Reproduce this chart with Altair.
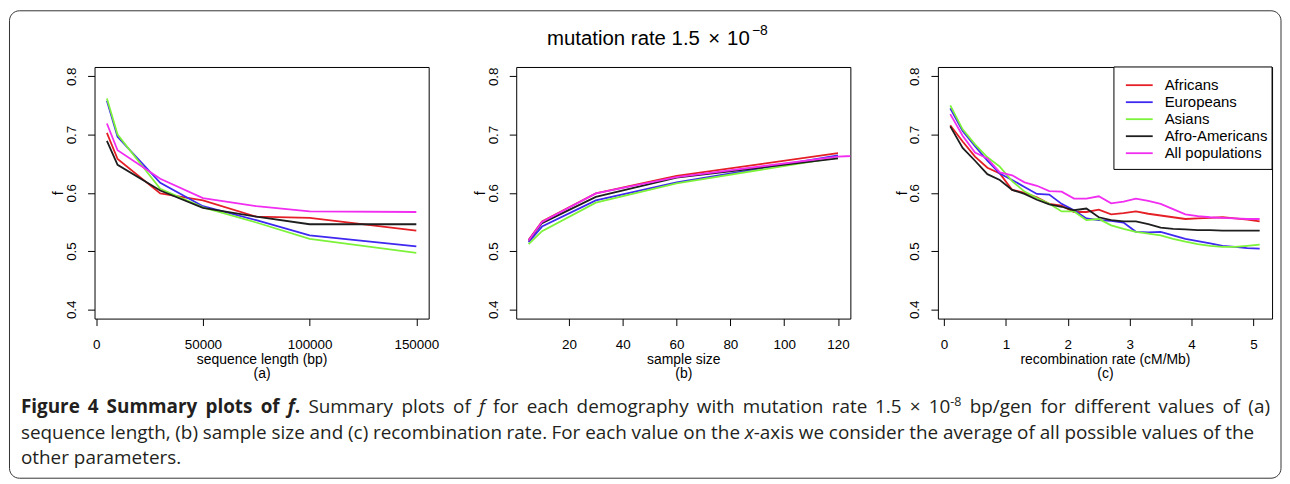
import glob
import altair as alt
import pandas as pd

# ---------------- data ----------------
series = ["Africans", "Europeans", "Asians", "Afro-Americans", "All populations"]
colors = ["#E41F26", "#3F28F0", "#7DF23A", "#1E1E1E", "#F02DF0"]

seq_length = [5000, 10000, 30000, 50000, 75000, 100000, 150000]
seq_africans = [0.703, 0.658, 0.599, 0.587, 0.559, 0.557, 0.535]
seq_europeans = [0.758, 0.696, 0.617, 0.577, 0.553, 0.527, 0.508]
seq_asians = [0.762, 0.700, 0.607, 0.575, 0.549, 0.521, 0.497]
seq_afro = [0.689, 0.648, 0.604, 0.574, 0.559, 0.546, 0.546]
seq_all = [0.719, 0.673, 0.624, 0.591, 0.577, 0.568, 0.567]

sample_size = [5, 10, 30, 60, 120]
sample_size_all = [5, 10, 30, 60, 120, 240]
smp_africans = [0.519, 0.551, 0.599, 0.629, 0.668]
smp_europeans = [0.515, 0.542, 0.587, 0.618, 0.664]
smp_asians = [0.512, 0.534, 0.583, 0.616, 0.661]
smp_afro = [0.518, 0.548, 0.593, 0.626, 0.659]
smp_all = [0.518, 0.550, 0.599, 0.627, 0.662, 0.690]

rec_rate = [0.1, 0.3, 0.5, 0.7, 0.9, 1.1, 1.3, 1.5, 1.7, 1.9, 2.1, 2.3, 2.5,
            2.7, 2.9, 3.1, 3.3, 3.5, 3.7, 3.9, 4.1, 4.3, 4.5, 4.7, 4.9, 5.1]
rec_africans = [0.716, 0.688, 0.662, 0.643, 0.633, 0.605, 0.600, 0.592, 0.581, 0.578, 0.567, 0.567, 0.571,
                0.563, 0.565, 0.568, 0.564, 0.561, 0.558, 0.555, 0.556, 0.557, 0.558, 0.556, 0.554, 0.551]
rec_europeans = [0.745, 0.706, 0.680, 0.655, 0.633, 0.622, 0.610, 0.598, 0.597, 0.581, 0.570, 0.556, 0.553,
                 0.552, 0.549, 0.533, 0.532, 0.533, 0.527, 0.521, 0.517, 0.513, 0.509, 0.507, 0.505, 0.504]
rec_asians = [0.750, 0.709, 0.683, 0.661, 0.645, 0.620, 0.602, 0.591, 0.581, 0.568, 0.568, 0.553, 0.555,
              0.544, 0.538, 0.533, 0.530, 0.527, 0.521, 0.516, 0.512, 0.509, 0.507, 0.507, 0.509, 0.511]
rec_afro = [0.714, 0.677, 0.655, 0.632, 0.622, 0.605, 0.598, 0.588, 0.580, 0.576, 0.570, 0.573, 0.558,
            0.553, 0.551, 0.551, 0.546, 0.540, 0.538, 0.537, 0.536, 0.536, 0.535, 0.535, 0.535, 0.535]
rec_all = [0.735, 0.698, 0.669, 0.659, 0.635, 0.630, 0.618, 0.612, 0.603, 0.602, 0.590, 0.590, 0.594,
           0.582, 0.585, 0.590, 0.586, 0.581, 0.572, 0.563, 0.560, 0.558, 0.557, 0.556, 0.555, 0.555]

y_ticks = [0.4, 0.5, 0.6, 0.7, 0.8]
seq_ticks = [0, 50000, 100000, 150000]
smp_ticks = [20, 40, 60, 80, 100, 120]
rec_ticks = [0, 1, 2, 3, 4, 5]


def long_table(xs_list, ys_list):
    rows = []
    for name, xs, ys in zip(series, xs_list, ys_list):
        for xv, yv in zip(xs, ys):
            rows.append({"series": name, "x": xv, "f": yv})
    return pd.DataFrame(rows)


df_a = long_table([seq_length] * 5, [seq_africans, seq_europeans, seq_asians, seq_afro, seq_all])
df_b = long_table([sample_size] * 4 + [sample_size_all], [smp_africans, smp_europeans, smp_asians, smp_afro, smp_all])
df_c = long_table([rec_rate] * 5, [rec_africans, rec_europeans, rec_asians, rec_afro, rec_all])

# ---------------- layout constants ----------------
W, H = 336, 253
OX, OY = 94, 65  # page position of panel (a) plot area
R_FONT = "Liberation Sans"
CAP_FONT = "Open Sans"
CAP_SIZE = 19
CAP_COLOR = "#231F20"
LINE_W = 1.8

color_scale = alt.Scale(domain=series, range=colors)


def lines(df, domain, ticks, title):
    return alt.Chart(df).mark_line(strokeWidth=LINE_W, clip=True).encode(
        x=alt.X("x:Q", scale=alt.Scale(domain=domain, nice=False, zero=False),
                axis=alt.Axis(values=ticks, format="d", title=title)),
        y=alt.Y("f:Q", scale=alt.Scale(domain=[0.384, 0.816], nice=False, zero=False),
                axis=alt.Axis(values=y_ticks, format=".1f", title="f")),
        color=alt.Color("series:N", scale=color_scale, legend=None),
    )


# ---------------- text measurement for the caption ----------------
_CW = {' ': .26, 'a': .556, 'b': .613, 'c': .476, 'd': .613, 'e': .561, 'f': .339, 'g': .548, 'h': .614,
       'i': .253, 'j': .253, 'k': .524, 'l': .253, 'm': .93, 'n': .614, 'o': .604, 'p': .613, 'q': .613,
       'r': .408, 's': .477, 't': .353, 'u': .614, 'v': .501, 'w': .778, 'x': .524, 'y': .502, 'z': .468,
       ',': .245, '.': .266, '(': .296, ')': .296, '-': .322, '/': .367, '×': .572, 'F': .549, 'S': .52}


def _find(pats):
    for p in pats:
        hits = glob.glob("/usr/share/fonts/**/" + p, recursive=True) + \
            glob.glob("/usr/local/share/fonts/**/" + p, recursive=True)
        if hits:
            return hits[0]
    return None


_FONTS = {}
try:
    from PIL import ImageFont
    for key, pats in {"r": ["OpenSans-Regular.ttf"], "b": ["OpenSans-Bold.ttf"],
                      "i": ["OpenSans-Italic.ttf"], "bi": ["OpenSans-BoldItalic.ttf"]}.items():
        path = _find(pats)
        if path:
            _FONTS[key] = ImageFont.truetype(path, 100)
except Exception:
    _FONTS = {}


def tw(text, st, size):
    key = "r" if st == "sup" else st
    if st == "sup":
        size = size * 0.66
    if key in _FONTS:
        try:
            return _FONTS[key].getlength(text) * size / 100.0
        except Exception:
            pass
    f = 1.07 if "b" in key else 1.0
    return sum(_CW.get(c, 0.572) for c in text) * size * f


def chunk(text, st, px, py, size, ox=OX, oy=OY):
    weight = "bold" if "b" in st else "normal"
    fstyle = "italic" if "i" in st else "normal"
    fs = size * 0.66 if st == "sup" else size
    yy = py - 7 if st == "sup" else py
    return alt.Chart(pd.DataFrame({"t": [text]})).mark_text(
        align="left", baseline="alphabetic", font=CAP_FONT, fontSize=fs,
        fontWeight=weight, fontStyle=fstyle, color=CAP_COLOR
    ).encode(text="t:N", x=alt.value(px - ox), y=alt.value(yy - oy))


def layout_line(words, x0, x1, y, size, justify=True):
    widths = [sum(tw(t, st, size) for t, st in w) for w in words]
    nat = 0.26 * size
    if justify:
        gap = (x1 - x0 - sum(widths)) / (len(words) - 1)
        gap = max(gap, 0.6 * nat)
    else:
        gap = nat
    out = []
    x = x0
    for w, wd in zip(words, widths):
        cx = x
        for t, st in w:
            out.append(chunk(t, st, cx, y, size))
            cx += tw(t, st, size)
        x += wd + gap
    return out


def words_of(s, st="r"):
    return [[(w, st)] for w in s.split(" ")]


line1 = (words_of("Figure 4 Summary plots of", "b") + [[("f", "bi"), (".", "b")]] +
         words_of("Summary plots of") + [[("f", "i")]] +
         words_of("for each demography with mutation rate 1.5 ×") + [[("10", "r"), ("-8", "sup")]] +
         words_of("bp/gen for different values of (a)"))
line2 = (words_of("sequence length, (b) sample size and (c) recombination rate. For each value on the") +
         [[("x", "i"), ("-axis", "r")]] +
         words_of("we consider the average of all possible values of the"))
line3 = words_of("other parameters.")

caption_layers = (layout_line(line1, 20, 1276, 413, CAP_SIZE) +
                  layout_line(line2, 20, 1260, 439, CAP_SIZE) +
                  layout_line(line3, 20, 200, 464, CAP_SIZE, justify=False))


def rtext(text, px, py, size):
    return alt.Chart(pd.DataFrame({"t": [text]})).mark_text(
        align="left", baseline="alphabetic", font=R_FONT, fontSize=size, color="black"
    ).encode(text="t:N", x=alt.value(px - OX), y=alt.value(py - OY))


title_layers = [
    rtext("mutation rate 1.5", 549, 43.3, 20.5),
    rtext("×", 711, 43.3, 20.5),
    rtext("10", 730, 43.3, 20.5),
    rtext("−8", 755, 32.5, 14),
]

border = alt.Chart(pd.DataFrame({"a": [0]})).mark_rect(
    fill="white", fillOpacity=0, stroke="#333333", strokeWidth=1, cornerRadius=10
).encode(x=alt.value(8.5 - OX), x2=alt.value(1287 - OX),
         y=alt.value(8.5 - OY), y2=alt.value(478.5 - OY))

# ---------------- panels ----------------
pa = alt.layer(
    lines(df_a, [-800, 155800], seq_ticks, ["sequence length (bp)", "(a)"]),
    border, *title_layers, *caption_layers
).properties(width=W, height=H)

pb = lines(df_b, [0.4, 124.6], smp_ticks, ["sample size", "(b)"]).properties(width=W, height=H)

legend_df = pd.DataFrame({"series": series})
legend_y = alt.Y("series:N", sort=series,
                 scale=alt.Scale(type="point", range=[18.3, 86.7], padding=0), axis=None)
legend_box = alt.Chart(pd.DataFrame({"a": [0]})).mark_rect(
    fill="white", stroke="black", strokeWidth=1
).encode(x=alt.value(177), x2=alt.value(W), y=alt.value(0), y2=alt.value(103))
legend_lines = alt.Chart(legend_df).mark_rule(strokeWidth=LINE_W).encode(
    x=alt.value(189), x2=alt.value(216), y=legend_y,
    color=alt.Color("series:N", scale=color_scale, legend=None))
legend_text = alt.Chart(legend_df).mark_text(
    align="left", baseline="middle", font=R_FONT, fontSize=15, color="black"
).encode(x=alt.value(228), y=legend_y, text="series:N")

pc = alt.layer(
    lines(df_c, [-0.1, 5.3], rec_ticks, ["recombination rate (cM/Mb)", "(c)"]),
    legend_box, legend_lines, legend_text
).resolve_scale(y="independent").properties(width=W, height=H)

chart = alt.hconcat(pa, pb, pc, spacing=88, bounds="flush").properties(
    padding=0, background="white"
).configure_view(
    stroke="black", strokeWidth=1
).configure_axis(
    domain=False, grid=False, ticks=True, tickSize=7, tickColor="black", tickWidth=1,
    labelFont=R_FONT, labelFontSize=13.5, labelColor="black",
    titleFont=R_FONT, titleFontSize=14, titleFontWeight="normal", titleColor="black",
    labelFlush=False, labelOverlap=False
).configure_axisX(
    labelBaseline="alphabetic", labelPadding=23,
    titleY=45, titleBaseline="alphabetic", titleLineHeight=14.5, titleAlign="center"
).configure_axisY(
    labelAngle=270, labelAlign="center", labelBaseline="alphabetic", labelPadding=12,
    titleAngle=270, titleX=-32, titleY=H / 2, titleAlign="center", titleBaseline="alphabetic"
)

chart.save("out.html", embed_options={"renderer": "svg", "actions": False})
